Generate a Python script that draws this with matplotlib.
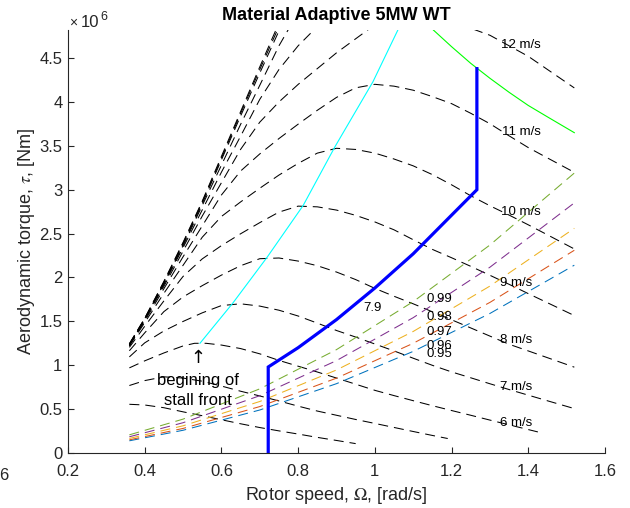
import numpy as np
import matplotlib
matplotlib.use('Agg')
import matplotlib.pyplot as plt

plt.rcParams['font.family'] = ['Liberation Sans', 'DejaVu Sans']
plt.rcParams['mathtext.fontset'] = 'stix'
plt.rcParams['lines.scale_dashes'] = False

# ---------------- data (torque in 1e6 Nm, rotor speed in rad/s) ----------------
omega_main = [0.36, 0.40, 0.45, 0.50, 0.55, 0.60, 0.65, 0.70, 0.75, 0.80, 0.85, 0.90,
              0.95, 1.00, 1.05, 1.10, 1.15, 1.20, 1.25, 1.30, 1.35, 1.40, 1.45, 1.52]

omega_v4 = [0.36, 0.40, 0.45, 0.50, 0.55, 0.60, 0.65, 0.70, 0.75, 0.80, 0.85, 0.90, 0.95]
torque_v4 = [0.555, 0.547, 0.516, 0.469, 0.425, 0.379, 0.333, 0.290, 0.252, 0.216, 0.178, 0.143, 0.107]

omega_v5 = [0.36, 0.40, 0.45, 0.50, 0.55, 0.60, 0.65, 0.70, 0.75, 0.80, 0.85, 0.90,
            0.95, 1.00, 1.05, 1.10, 1.15, 1.19]
torque_v5 = [0.769, 0.825, 0.868, 0.854, 0.818, 0.763, 0.704, 0.650, 0.593, 0.534, 0.478, 0.430,
             0.382, 0.337, 0.291, 0.245, 0.200, 0.165]

omega_v6 = [0.36, 0.40, 0.45, 0.50, 0.53, 0.56, 0.60, 0.65, 0.70, 0.75, 0.80, 0.85, 0.90,
            0.95, 1.00, 1.05, 1.10, 1.15, 1.20, 1.25, 1.30, 1.35, 1.40, 1.425]
torque_v6 = [0.97, 1.05, 1.14, 1.22, 1.25, 1.25, 1.23, 1.19, 1.13, 1.055, 0.989, 0.923, 0.854,
             0.784, 0.714, 0.654, 0.596, 0.539, 0.484, 0.43, 0.375, 0.321, 0.267, 0.24]

torque_v7 = [1.095, 1.255, 1.391, 1.499, 1.597, 1.68, 1.70, 1.674, 1.627, 1.561, 1.48, 1.396,
             1.321, 1.242, 1.163, 1.08, 0.999, 0.924, 0.857, 0.789, 0.723, 0.659, 0.595, 0.506]
torque_v8 = [1.165, 1.369, 1.611, 1.778, 1.907, 2.027, 2.134, 2.214, 2.222, 2.187, 2.134, 2.062,
             1.976, 1.876, 1.786, 1.70, 1.609, 1.518, 1.425, 1.332, 1.239, 1.163, 1.086, 0.978]
torque_v9 = [1.204, 1.444, 1.733, 2.012, 2.212, 2.363, 2.498, 2.625, 2.745, 2.813, 2.805, 2.768,
             2.708, 2.633, 2.543, 2.43, 2.32, 2.225, 2.127, 2.025, 1.922, 1.816, 1.712, 1.566]
torque_v10 = [1.222, 1.486, 1.82, 2.139, 2.459, 2.695, 2.861, 3.017, 3.167, 3.30, 3.417, 3.472,
              3.459, 3.417, 3.35, 3.272, 3.172, 3.056, 2.931, 2.817, 2.711, 2.60, 2.486, 2.325]
torque_v11 = [1.23, 1.504, 1.872, 2.236, 2.588, 2.94, 3.213, 3.408, 3.583, 3.747, 3.905, 4.052,
              4.161, 4.201, 4.18, 4.134, 4.061, 3.981, 3.871, 3.752, 3.614, 3.48, 3.362, 3.198]
torque_v12 = [1.24, 1.52, 1.90, 2.30, 2.70, 3.08, 3.46, 3.77, 4.00, 4.20, 4.38, 4.56,
              4.72, 4.88, 4.98, 5.00, 4.98, 4.92, 4.84, 4.76, 4.64, 4.52, 4.37, 4.16]

omega_v13 = [0.36, 0.40, 0.45, 0.50, 0.55, 0.60, 0.65, 0.70, 0.75, 0.80, 0.85, 0.90]
torque_v13 = [1.236, 1.53, 1.92, 2.34, 2.77, 3.20, 3.61, 4.03, 4.37, 4.64, 4.86, 5.06]
omega_v14 = [0.36, 0.40, 0.45, 0.50, 0.55, 0.60, 0.65, 0.70, 0.75, 0.80]
torque_v14 = [1.22, 1.53, 1.93, 2.36, 2.82, 3.28, 3.745, 4.19, 4.64, 5.02]
omega_v15 = [0.36, 0.40, 0.45, 0.50, 0.55, 0.60, 0.65, 0.70, 0.75, 0.80]
torque_v15 = [1.23, 1.52, 1.94, 2.375, 2.84, 3.34, 3.84, 4.33, 4.81, 5.29]
torque_v16 = [1.24, 1.53, 1.95, 2.39, 2.86, 3.36, 3.87, 4.37, 4.86, 5.35]
torque_v17 = [1.245, 1.535, 1.955, 2.40, 2.87, 3.38, 3.89, 4.40, 4.90, 5.40]

# efficiency (0.95 ... 0.99) torque lines
omega_eff = [0.36, 0.50, 0.70, 0.90, 1.10, 1.30, 1.52]
eff_095 = [0.139, 0.259, 0.490, 0.790, 1.158, 1.590, 2.14]
eff_096 = [0.150, 0.280, 0.529, 0.853, 1.250, 1.716, 2.31]
eff_097 = [0.166, 0.310, 0.587, 0.946, 1.385, 1.902, 2.56]
eff_098 = [0.185, 0.345, 0.653, 1.053, 1.542, 2.117, 2.85]
eff_099 = [0.207, 0.386, 0.731, 1.178, 1.725, 2.370, 3.19]
eff_labels = ['0.95', '0.96', '0.97', '0.98', '0.99']
eff_label_y = [1.128, 1.219, 1.378, 1.549, 1.754]

# operating trajectory
traj_omega = [0.722, 0.722, 0.80, 0.90, 1.00, 1.10, 1.20, 1.266, 1.266]
traj_torque = [0.0, 0.98, 1.20, 1.52, 1.88, 2.27, 2.71, 3.00, 4.38]

# stall front
stall_omega = [0.544, 0.63, 0.719, 0.813, 0.896, 0.995, 1.06]
stall_torque = [1.25, 1.71, 2.23, 2.82, 3.49, 4.23, 4.82]

# rated power curve
power_omega = [1.15, 1.20, 1.25, 1.30, 1.35, 1.40, 1.45, 1.52]
power_torque = [4.83, 4.63, 4.44, 4.27, 4.11, 3.96, 3.83, 3.65]

wind_labels = ['6 m/s', '7 m/s', '8 m/s', '9 m/s', '10 m/s', '11 m/s', '12 m/s']
wind_label_x = [1.368, 1.368, 1.368, 1.368, 1.381, 1.381, 1.381]
wind_label_y = [0.342, 0.752, 1.287, 1.94, 2.745, 3.656, 4.647]

xticks = [0.2, 0.4, 0.6, 0.8, 1.0, 1.2, 1.4, 1.6]
xticklabels = ['0.2', '0.4', '0.6', '0.8', '1', '1.2', '1.4', '1.6']
yticks = [0, 0.5, 1, 1.5, 2, 2.5, 3, 3.5, 4, 4.5]
yticklabels = ['0', '0.5', '1', '1.5', '2', '2.5', '3', '3.5', '4', '4.5']

# ---------------- figure ----------------
W, H = 630, 508
fig = plt.figure(figsize=(W / 100, H / 100), dpi=100)
ax = fig.add_axes([68 / W, 55 / H, 537 / W, 423 / H])

dash = (0, (7.2, 4.3))
kw = dict(color='black', lw=0.75, linestyle=dash)

wind_curves = [
    (omega_v4, torque_v4), (omega_v5, torque_v5), (omega_v6, torque_v6),
    (omega_main, torque_v7), (omega_main, torque_v8), (omega_main, torque_v9),
    (omega_main, torque_v10), (omega_main, torque_v11), (omega_main, torque_v12),
    (omega_v13, torque_v13), (omega_v14, torque_v14), (omega_v15, torque_v15),
    (omega_v15, torque_v16), (omega_v15, torque_v17),
]
for om, tq in wind_curves:
    ax.plot(om, tq, **kw)

eff_colors = ['#0072BD', '#D95319', '#EDB120', '#7E2F8E', '#77AC30']
for vals, c in zip([eff_095, eff_096, eff_097, eff_098, eff_099], eff_colors):
    ax.plot(omega_eff, vals, color=c, lw=0.75, linestyle=dash)

ax.plot(stall_omega, stall_torque, color='cyan', lw=0.8)
ax.plot(power_omega, power_torque, color='#00FF00', lw=0.8)
ax.plot(traj_omega, traj_torque, color='blue', lw=2.3, solid_joinstyle='miter')

for lab, x, y in zip(wind_labels, wind_label_x, wind_label_y):
    ax.text(x, y, lab, fontsize=9.5, ha='center', va='center', color='black')
for lab, y in zip(eff_labels, eff_label_y):
    ax.text(1.168, y, lab, fontsize=9.5, ha='center', va='center', color='black')
ax.text(0.994, 1.651, '7.9', fontsize=9.5, ha='center', va='center')

ax.text(0.539, 1.08, '\u2191', fontsize=13, ha='center', va='center',
        family=['DejaVu Sans'])
ax.text(0.539, 0.83, 'begining of', fontsize=12, ha='center', va='center')
ax.text(0.539, 0.60, 'stall front', fontsize=12, ha='center', va='center')

ax.set_xlim(0.2, 1.6)
ax.set_ylim(0, 4.82)
ax.set_xticks(xticks)
ax.set_xticklabels(xticklabels)
ax.set_yticks(yticks)
ax.set_yticklabels(yticklabels)

gray = '#262626'
for s in ['top', 'right']:
    ax.spines[s].set_visible(False)
for s in ['left', 'bottom']:
    ax.spines[s].set_color(gray)
    ax.spines[s].set_linewidth(0.8)
ax.tick_params(axis='both', direction='in', length=4, width=0.8, color=gray,
               labelcolor=gray, labelsize=12)
ax.tick_params(axis='x', pad=8)
ax.tick_params(axis='y', pad=4)

ax.set_xlabel(r'Rotor speed, $\Omega$, [rad/s]', fontsize=13, color=gray)
ax.xaxis.set_label_coords(0.5, -0.075)
ax.set_ylabel(r'Aerodynamic torque, $\tau$, [Nm]', fontsize=13, color=gray)
ax.yaxis.set_label_coords(-0.058, 0.5)
ax.set_title('Material Adaptive 5MW WT', fontsize=13, fontweight='bold', pad=7)

fig.text(69 / W, 1 - 27 / H, '\u00d7', fontsize=10, color=gray, ha='left', va='baseline')
fig.text(81 / W, 1 - 27 / H, '10', fontsize=12, color=gray, ha='left', va='baseline')
fig.text(100 / W, 1 - 20 / H, '6', fontsize=9, color=gray, ha='left', va='baseline')
fig.text(8 / W, 1 - 480 / H, '6', fontsize=12, color=gray, ha='right', va='baseline')

fig.savefig('out.png', dpi=100)
